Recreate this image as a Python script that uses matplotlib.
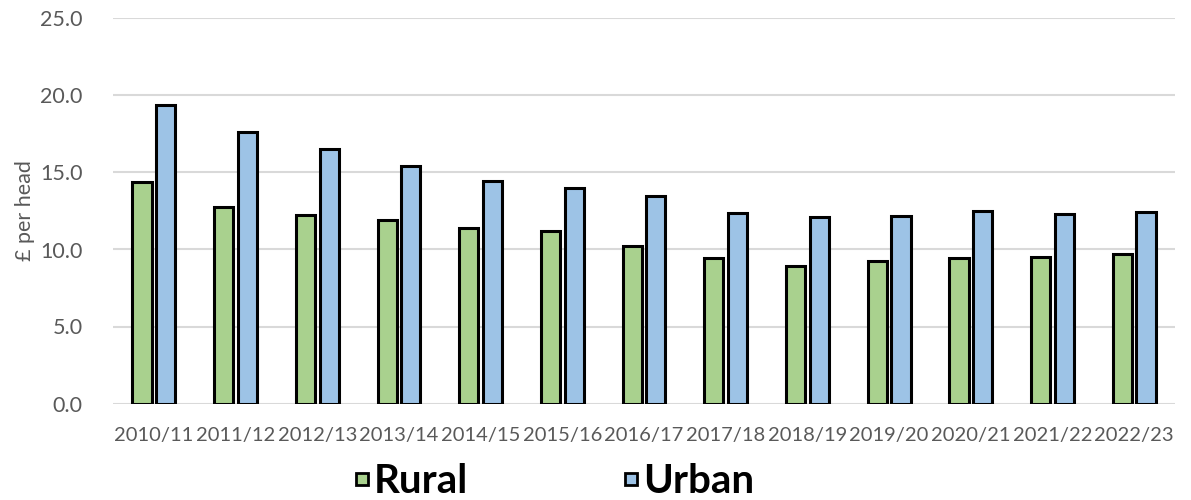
import matplotlib
matplotlib.use("Agg")
from matplotlib import pyplot as plt
from matplotlib.lines import Line2D
import numpy as np

# data
years = ["2010/11", "2011/12", "2012/13", "2013/14", "2014/15", "2015/16", "2016/17",
         "2017/18", "2018/19", "2019/20", "2020/21", "2021/22", "2022/23"]
rural = [14.4, 12.75, 12.27, 11.94, 11.39, 11.21, 10.2, 9.42, 8.96, 9.25, 9.44, 9.5, 9.74]
urban = [19.4, 17.6, 16.53, 15.45, 14.42, 14.0, 13.5, 12.34, 12.08, 12.17, 12.47, 12.3, 12.45]

green = "#a9d18e"
blue = "#9dc3e6"
grey = "#595959"

plt.rcParams['font.family'] = ['Lato', 'DejaVu Sans']

fig = plt.figure(figsize=(11.91, 5.0), dpi=100)
ax = fig.add_axes([0.0949, 0.193, 0.8917, 0.77])

x = np.arange(len(years))
w = 0.235
off = 0.145
ax.bar(x - off, rural, w, color=green, edgecolor="black", linewidth=2.2, zorder=3)
ax.bar(x + off, urban, w, color=blue, edgecolor="black", linewidth=2.2, zorder=3)

ax.set_xlim(-0.5, len(years) - 0.5)
ax.set_ylim(0, 25)
ax.set_yticks(np.arange(0, 26, 5))
ax.set_yticklabels(["%.1f" % v for v in np.arange(0, 26, 5)], fontsize=15.5, color=grey)
ax.set_xticks(x)
ax.set_xticklabels(years, fontsize=14.5, color=grey)
ax.tick_params(length=0)
ax.tick_params(axis="x", pad=17)
ax.tick_params(axis="y", pad=22)
ax.grid(axis="y", color="#d9d9d9", linewidth=1.5, zorder=0)
for s in ax.spines.values():
    s.set_visible(False)
ax.set_ylabel("£ per head", fontsize=15.5, color=grey)
ax.yaxis.set_label_coords(-0.0734, 0.5)

# little square markers like the original legend
hr = Line2D([], [], ls="none", marker="s", markersize=8, markerfacecolor=green,
            markeredgecolor="black", markeredgewidth=2)
hu = Line2D([], [], ls="none", marker="s", markersize=8, markerfacecolor=blue,
            markeredgecolor="black", markeredgewidth=2)
leg = fig.legend(handles=[hr, hu], labels=["Rural", "Urban"], loc="center",
                 bbox_to_anchor=(0.466, 0.037), ncol=2, frameon=False,
                 handlelength=0.3, handletextpad=0.15, columnspacing=3.9,
                 prop={"weight": "bold", "size": 29})

fig.savefig("out.png", dpi=100)
